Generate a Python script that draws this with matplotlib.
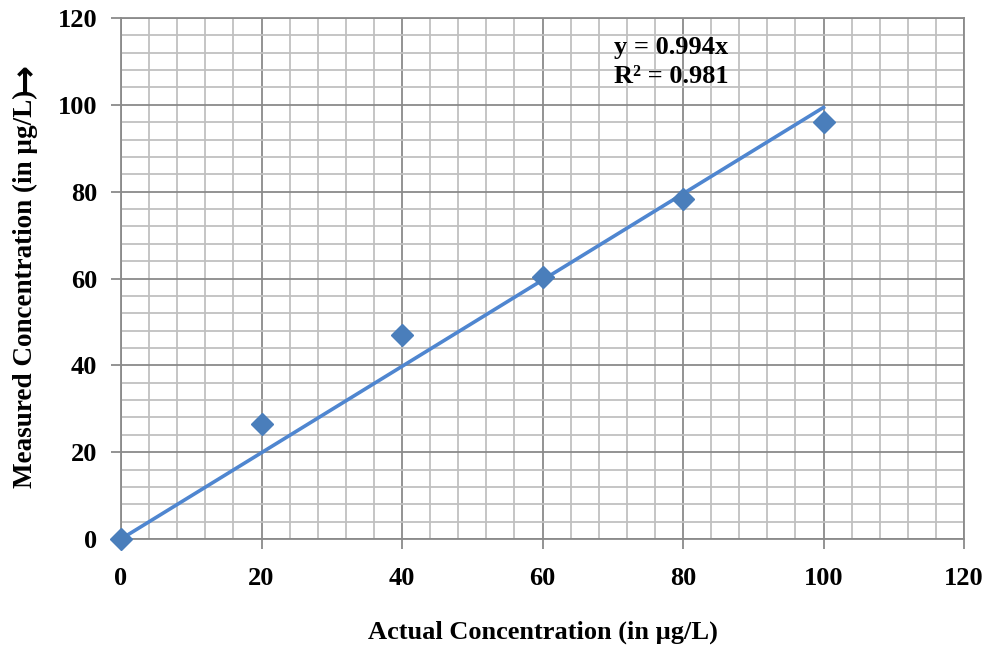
import numpy as np
import matplotlib
matplotlib.use('Agg')
import matplotlib.pyplot as plt
from matplotlib.ticker import MultipleLocator

plt.rcParams['font.family'] = ['Liberation Serif', 'DejaVu Serif']
plt.rcParams['font.weight'] = 'bold'

actual = [0, 20, 40, 60, 80, 100]
measured = [0, 26.6, 47.0, 60.3, 78.4, 96.0]
slope = 0.994
eq_line = "y = 0.994x"
r2_line = "R² = 0.981"

fig = plt.figure(figsize=(9.89, 6.48), dpi=100)
ax = fig.add_axes([121/989, 1-539/648, (964-121)/989, (539-18)/648])

ax.xaxis.set_major_locator(MultipleLocator(20))
ax.yaxis.set_major_locator(MultipleLocator(20))
ax.xaxis.set_minor_locator(MultipleLocator(4))
ax.yaxis.set_minor_locator(MultipleLocator(4))
ax.grid(which='minor', color='#c0c0c0', lw=1.3, zorder=0)
ax.grid(which='major', color='#8a8a8a', lw=1.3, zorder=0.5)
ax.set_axisbelow(True)

xfit = np.array([0, 100])
ax.plot(xfit, slope*xfit, color='#4f86d0', lw=2.6, zorder=2)
ax.plot(actual, measured, 'D', color='#4a7ebb', ms=11, zorder=3, clip_on=False)

ax.set_xlim(0, 120)
ax.set_ylim(0, 120)
for s in ax.spines.values():
    s.set_color('#8a8a8a')
    s.set_linewidth(1.3)
ax.tick_params(which='major', direction='out', length=7, width=1.3, color='#8a8a8a',
               labelsize=19, pad=13)
ax.tick_params(which='minor', length=0)
ax.tick_params(axis='y', pad=10)
for lab in ax.get_xticklabels() + ax.get_yticklabels():
    lab.set_fontweight('bold')

ax.set_xlabel('Actual Concentration (in µg/L)', fontsize=19, fontweight='bold', labelpad=22)
# y label drawn as figure text, arrow separately with a font that has a bolder glyph
fig.text(25/989, 1-289/648, 'Measured Concentration (in µg/L)', rotation=90,
         fontsize=19.5, fontweight='bold', ha='center', va='center')
fig.text(25/989, 1-78/648, '→', rotation=90, fontsize=25, fontweight='bold',
         family='DejaVu Sans', ha='center', va='center')

ax.text(70.2, 113.1, eq_line, fontsize=19, fontweight='bold', va='center', ha='left')
ax.text(70.2, 106.6, r2_line, fontsize=19, fontweight='bold', va='center', ha='left')

fig.savefig('out.png', dpi=100)
